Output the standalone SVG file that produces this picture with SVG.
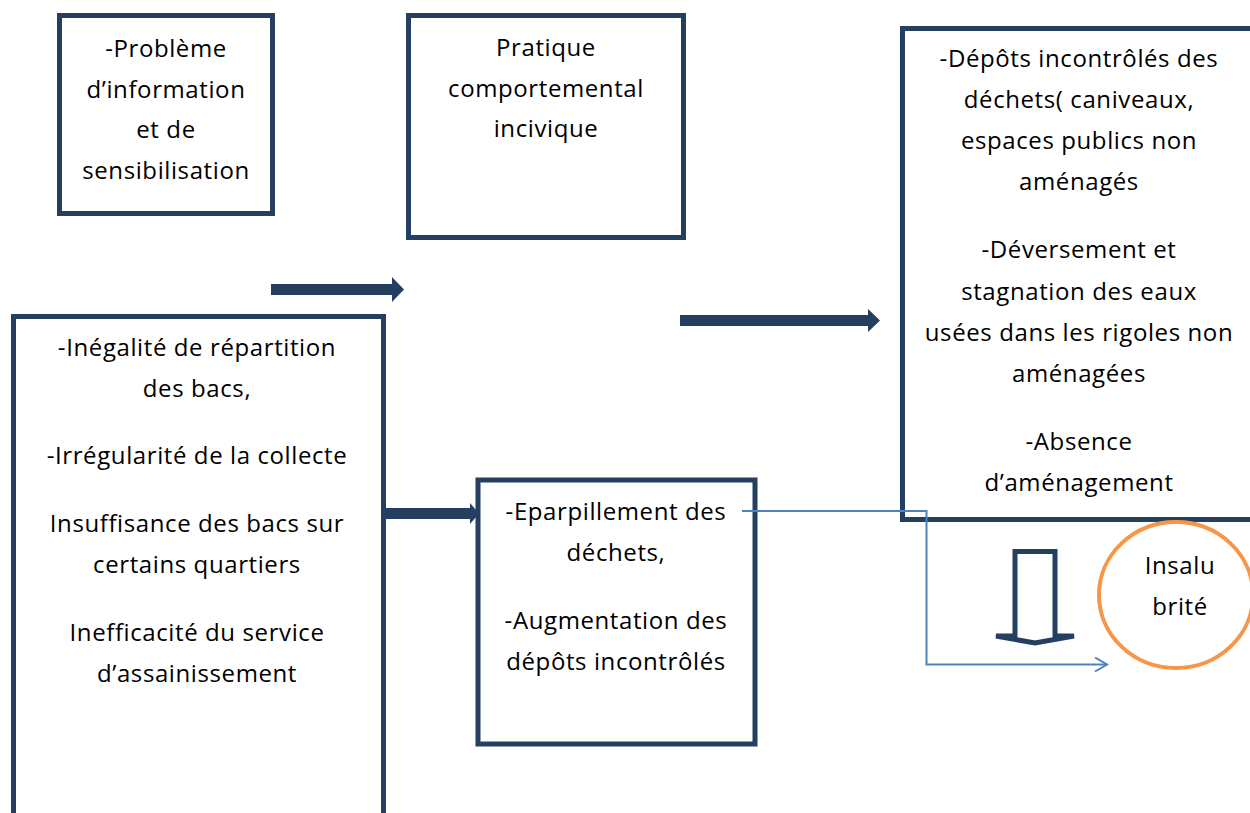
<svg xmlns="http://www.w3.org/2000/svg" width="1250" height="813" viewBox="0 0 1250 813">
<style>
.box{fill:#fff;stroke:#243F60;stroke-width:5}
.t{font-family:"Open Sans","Noto Sans","Liberation Sans",sans-serif;font-size:24px;letter-spacing:0.6px;fill:#000;text-anchor:middle}
.thick{fill:#243F60}
.conn{fill:none;stroke:#4F81BD;stroke-width:2}
</style>
<defs>
<marker id="open" markerWidth="16" markerHeight="16" refX="14" refY="8" orient="auto" markerUnits="userSpaceOnUse">
<path d="M2,1 L14,8 L2,15" fill="none" stroke="#4F81BD" stroke-width="2"/>
</marker>
</defs>
<rect width="1250" height="813" fill="#fff"/>
<g id="n1">
<rect class="box" x="59.5" y="15.5" width="213" height="198"/>
<text class="t" x="166" y="57">-Problème</text>
<text class="t" x="166" y="97.5">d’information</text>
<text class="t" x="166" y="138">et de</text>
<text class="t" x="166" y="178.5">sensibilisation</text>
</g>
<g id="n2">
<rect class="box" x="408.5" y="15.5" width="275" height="222"/>
<text class="t" x="546" y="56">Pratique</text>
<text class="t" x="546" y="96.5">comportemental</text>
<text class="t" x="546" y="137">incivique</text>
</g>
<g id="n3">
<rect class="box" x="902.5" y="28.5" width="360" height="491"/>
<text class="t" x="1079" y="67">-Dépôts incontrôlés des</text>
<text class="t" x="1079" y="108">déchets( caniveaux,</text>
<text class="t" x="1079" y="149">espaces publics non</text>
<text class="t" x="1079" y="190">aménagés</text>
<text class="t" x="1079" y="258">-Déversement et</text>
<text class="t" x="1079" y="300">stagnation des eaux</text>
<text class="t" x="1079" y="341">usées dans les rigoles non</text>
<text class="t" x="1079" y="382">aménagées</text>
<text class="t" x="1079" y="450">-Absence</text>
<text class="t" x="1079" y="491">d’aménagement</text>
</g>
<g id="n4">
<rect class="box" x="13.5" y="316.5" width="370" height="510"/>
<text class="t" x="197" y="356">-Inégalité de répartition</text>
<text class="t" x="197" y="397">des bacs,</text>
<text class="t" x="197" y="464">-Irrégularité de la collecte</text>
<text class="t" x="197" y="532">Insuffisance des bacs sur</text>
<text class="t" x="197" y="573">certains quartiers</text>
<text class="t" x="197" y="641">Inefficacité du service</text>
<text class="t" x="197" y="682">d’assainissement</text>
</g>
<g id="n5">
<rect class="box" x="478" y="480" width="277" height="264"/>
<text class="t" x="616" y="520">-Eparpillement des</text>
<text class="t" x="616" y="561">déchets,</text>
<text class="t" x="616" y="629">-Augmentation des</text>
<text class="t" x="616" y="670">dépôts incontrôlés</text>
</g>
<g id="n6">
<ellipse cx="1176" cy="595" rx="77" ry="73" fill="#fff" stroke="#F79646" stroke-width="4"/>
<text class="t" x="1180" y="574">Insalu</text>
<text class="t" x="1180" y="615">brité</text>
</g>
<g id="connectors">
<path class="thick" d="M271,284 L392,284 L392,277 L404,289.5 L392,302 L392,295 L271,295 Z"/>
<path class="thick" d="M680,315 L868,315 L868,309 L880,320.5 L868,332 L868,326 L680,326 Z"/>
<path class="thick" d="M385,508 L470,508 L470,503 L479,513.5 L470,524 L470,519 L385,519 Z"/>
<polygon points="1015,551.5 1055,551.5 1055,636 1074,636 1035,643 996,636 1015,636" fill="#fff" stroke="#243F60" stroke-width="5" stroke-linejoin="miter"/>
<polyline class="conn" points="742,511 926.5,511 926.5,664.5 1107,664.5" marker-end="url(#open)"/>
</g>
</svg>
